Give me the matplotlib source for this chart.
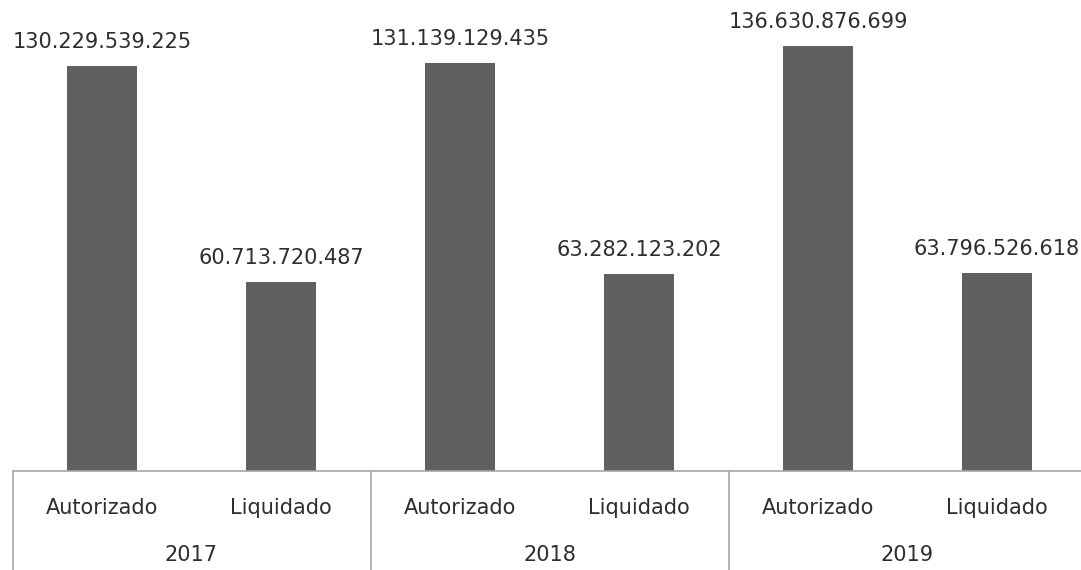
import matplotlib
matplotlib.use('Agg')

import numpy as np
import matplotlib.pyplot as plt
import matplotlib.transforms as mtransforms

years = ['2017', '2018', '2019']
kinds = ['Autorizado', 'Liquidado']
autorizado = [130229539225, 131139129435, 136630876699]
liquidado = [60713720487, 63282123202, 63796526618]


def fmt_dots(v):
  # thousands separated with dots
  return '{:,}'.format(v).replace(',', '.')


def main():
  values = []
  labels = []
  for a, l in zip(autorizado, liquidado):
    values += [a, l]
    labels += kinds

  x = np.arange(len(values))
  scaled = np.array(values) / 1e9

  fig = plt.figure(figsize=(10.81, 5.70), dpi=100)
  W, H = 1081.0, 570.0
  ax = fig.add_axes([12.5 / W, 99 / H, 1074 / W, 471 / H])

  bar_color = '#606060'
  txt_color = '#2e2e2e'
  line_color = '#a6a6a6'
  fs = 15

  bars = ax.bar(x, scaled, width=0.39, color=bar_color)
  for b, v in zip(bars, values):
    ax.annotate(fmt_dots(v), (b.get_x() + b.get_width() / 2, b.get_height()),
                xytext=(0, 10), textcoords='offset points',
                ha='center', va='bottom', fontsize=fs, color=txt_color)

  ax.set_xlim(-0.5, len(values) - 0.5)
  ax.set_ylim(0, 151.4)
  ax.set_xticks([])
  ax.set_yticks([])
  for s in ['left', 'right', 'top']:
    ax.spines[s].set_visible(False)
  ax.spines['bottom'].set_color(line_color)
  ax.spines['bottom'].set_linewidth(1.2)

  # two-level category axis below the bars
  trans = mtransforms.blended_transform_factory(ax.transData, ax.transAxes)
  depth = -99 / 471.
  for xv in np.arange(-0.5, len(values), 2):
    ax.plot([xv, xv], [0, depth], transform=trans, color=line_color,
            lw=1.2, clip_on=False)

  for xi, lab in zip(x, labels):
    ax.text(xi, -37 / 471., lab, transform=trans, ha='center', va='center',
            fontsize=fs, color=txt_color)
  for i, yr in enumerate(years):
    ax.text(2 * i + 0.5, -84 / 471., yr, transform=trans, ha='center',
            va='center', fontsize=fs, color=txt_color)

  fig.savefig('out.png', dpi=100)


if __name__ == '__main__':
  main()
